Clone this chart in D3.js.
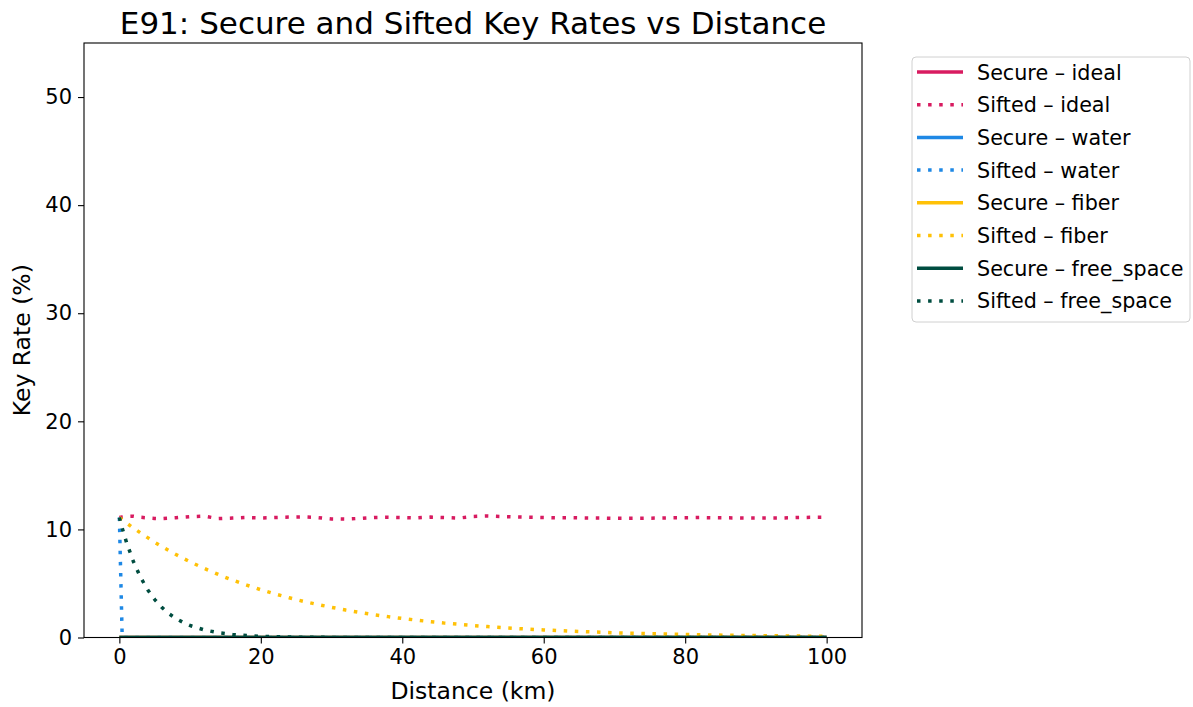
<!DOCTYPE html>
<html>
<head>
<meta charset="utf-8">
<script src="https://cdn.jsdelivr.net/npm/d3@7/dist/d3.min.js"></script>
<style>
  html, body { margin: 0; padding: 0; background: #ffffff; }
  svg { display: block; font-family: "DejaVu Sans", sans-serif; }
</style>
</head>
<body>
<svg id="chart" width="1193" height="707"></svg>
<script>
// ---------------- data ----------------
const distance = [0, 0.4, 1, 2, 3, 4, 5, 6, 7, 8, 9, 10,
  12, 14, 16, 18, 20, 22, 24, 26, 28, 30, 32, 34, 36, 38, 40,
  42, 44, 46, 48, 50, 52, 54, 56, 58, 60, 62, 64, 66, 68, 70,
  72, 74, 76, 78, 80, 82, 84, 86, 88, 90, 92, 94, 96, 98, 100];

const siftedIdeal = [11.1, 11.15, 11.2, 11.22, 11.12, 11.07, 11.02, 11.0, 11.04, 11.08, 11.13, 11.18,
  11.23, 11.0, 11.05, 11.1, 11.06, 11.1, 11.14, 11.16, 11.1, 10.97, 10.95, 11.02, 11.1, 11.12, 11.1,
  11.06, 11.14, 11.1, 11.05, 11.2, 11.24, 11.2, 11.15, 11.12, 11.1, 11.08, 11.08, 11.06, 11.05, 11.03,
  11.03, 11.03, 11.05, 11.07, 11.08, 11.1, 11.08, 11.07, 11.06, 11.05, 11.05, 11.06, 11.1, 11.12, 11.12];

const siftedWater = [11.1, 0, 0, 0, 0, 0, 0, 0, 0, 0, 0, 0,
  0, 0, 0, 0, 0, 0, 0, 0, 0, 0, 0, 0, 0, 0, 0,
  0, 0, 0, 0, 0, 0, 0, 0, 0, 0, 0, 0, 0, 0, 0,
  0, 0, 0, 0, 0, 0, 0, 0, 0, 0, 0, 0, 0, 0, 0];

const siftedFiber = [11.1, 10.9, 10.6, 10.12, 9.67, 9.24, 8.81, 8.42, 8.04, 7.68, 7.33, 7.0,
  6.39, 5.83, 5.31, 4.85, 4.42, 4.03, 3.68, 3.35, 3.06, 2.79, 2.54, 2.32, 2.11, 1.93, 1.76,
  1.61, 1.46, 1.33, 1.22, 1.11, 1.01, 0.92, 0.84, 0.77, 0.7, 0.64, 0.58, 0.53, 0.49, 0.44,
  0.4, 0.37, 0.34, 0.31, 0.28, 0.25, 0.23, 0.21, 0.19, 0.18, 0.16, 0.15, 0.13, 0.12, 0.11];

const siftedFreeSpace = [11.1, 10.12, 8.82, 7.0, 5.56, 4.42, 3.51, 2.79, 2.21, 1.76, 1.4, 1.11,
  0.7, 0.44, 0.28, 0.18, 0.11, 0.07, 0.044, 0.028, 0.018, 0.011, 0.007, 0.004, 0.003, 0.002, 0.001,
  0, 0, 0, 0, 0, 0, 0, 0, 0, 0, 0, 0, 0, 0, 0,
  0, 0, 0, 0, 0, 0, 0, 0, 0, 0, 0, 0, 0, 0, 0];

// secure key rates are zero over the whole range
const secureDistance = [0, 100];
const secureIdeal = [0, 0];
const secureWater = [0, 0];
const secureFiber = [0, 0];
const secureFreeSpace = [0, 0];

const channels = ["ideal", "water", "fiber", "free_space"];
const channelColors = ["#D81B60", "#1E88E5", "#FFC107", "#004D40"];
const xTicks = [0, 20, 40, 60, 80, 100];
const yTicks = [0, 10, 20, 30, 40, 50];

// ---------------- layout ----------------
const svg = d3.select("#chart");
const M = { left: 84, right: 862, top: 43, bottom: 637.5 };

const x = d3.scaleLinear().domain([-5, 105]).range([M.left, M.right]);
const y = d3.scaleLinear().domain([0, 55]).range([M.bottom, M.top]);

const series = [
  { label: "Secure \u2013 ideal", xs: secureDistance, ys: secureIdeal, c: 0, dotted: false },
  { label: "Sifted \u2013 ideal", xs: distance, ys: siftedIdeal, c: 0, dotted: true },
  { label: "Secure \u2013 water", xs: secureDistance, ys: secureWater, c: 1, dotted: false },
  { label: "Sifted \u2013 water", xs: distance, ys: siftedWater, c: 1, dotted: true },
  { label: "Secure \u2013 fiber", xs: secureDistance, ys: secureFiber, c: 2, dotted: false },
  { label: "Sifted \u2013 fiber", xs: distance, ys: siftedFiber, c: 2, dotted: true },
  { label: "Secure \u2013 free_space", xs: secureDistance, ys: secureFreeSpace, c: 3, dotted: false },
  { label: "Sifted \u2013 free_space", xs: distance, ys: siftedFreeSpace, c: 3, dotted: true }
];

const LW = 3.5;
const DASH = "3.5,7.6";

svg.append("defs").append("clipPath").attr("id", "plotclip")
  .append("rect")
  .attr("x", M.left).attr("y", M.top)
  .attr("width", M.right - M.left).attr("height", M.bottom - M.top);

// lines
const line = d3.line().x(d => x(d[0])).y(d => y(d[1]));
const plot = svg.append("g").attr("clip-path", "url(#plotclip)");
series.forEach(s => {
  const pts = s.xs.map((d, i) => [d, s.ys[i]]);
  plot.append("path")
    .attr("d", line(pts))
    .attr("fill", "none")
    .attr("stroke", channelColors[s.c])
    .attr("stroke-width", LW)
    .attr("stroke-linecap", "butt")
    .attr("stroke-linejoin", "round")
    .attr("stroke-dasharray", s.dotted ? DASH : null);
});

// axes
const xAxis = svg.append("g")
  .attr("transform", `translate(0,${M.bottom})`)
  .call(d3.axisBottom(x).tickValues(xTicks).tickSize(6).tickPadding(6).tickFormat(d3.format("d")));
const yAxis = svg.append("g")
  .attr("transform", `translate(${M.left},0)`)
  .call(d3.axisLeft(y).tickValues(yTicks).tickSize(6).tickPadding(6).tickFormat(d3.format("d")));

[xAxis, yAxis].forEach(g => {
  g.select(".domain").remove();
  g.selectAll(".tick line").attr("stroke", "#000").attr("stroke-width", 1.1);
  g.selectAll(".tick text").attr("fill", "#000")
    .style("font-size", "21px").style("font-family", "DejaVu Sans, sans-serif");
});

// frame
svg.append("rect")
  .attr("x", M.left).attr("y", M.top)
  .attr("width", M.right - M.left).attr("height", M.bottom - M.top)
  .attr("fill", "none").attr("stroke", "#000").attr("stroke-width", 1.1);

// title and labels
svg.append("text")
  .attr("x", (M.left + M.right) / 2).attr("y", 34)
  .attr("text-anchor", "middle")
  .style("font-size", "31px")
  .text("E91: Secure and Sifted Key Rates vs Distance");

svg.append("text")
  .attr("x", (M.left + M.right) / 2).attr("y", 699)
  .attr("text-anchor", "middle")
  .style("font-size", "23.5px")
  .text("Distance (km)");

svg.append("text")
  .attr("transform", `translate(30,${(M.top + M.bottom) / 2}) rotate(-90)`)
  .attr("text-anchor", "middle")
  .style("font-size", "23.5px")
  .text("Key Rate (%)");

// legend
const L = { x: 912, y: 57, w: 278, h: 265, rowY0: 72, rowDy: 32.7 };
const leg = svg.append("g");
leg.append("rect")
  .attr("x", L.x).attr("y", L.y).attr("width", L.w).attr("height", L.h)
  .attr("rx", 4).attr("ry", 4)
  .attr("fill", "#fff").attr("fill-opacity", 0.8)
  .attr("stroke", "#d0d0d0").attr("stroke-width", 1);

series.forEach((s, i) => {
  const yy = L.rowY0 + i * L.rowDy;
  leg.append("line")
    .attr("x1", 917).attr("x2", 963).attr("y1", yy).attr("y2", yy)
    .attr("stroke", channelColors[s.c])
    .attr("stroke-width", LW)
    .attr("stroke-dasharray", s.dotted ? DASH : null);
  leg.append("text")
    .attr("x", 977).attr("y", yy + 7.5)
    .style("font-size", "20.7px")
    .attr("fill", "#000")
    .text(s.label);
});
</script>
</body>
</html>
